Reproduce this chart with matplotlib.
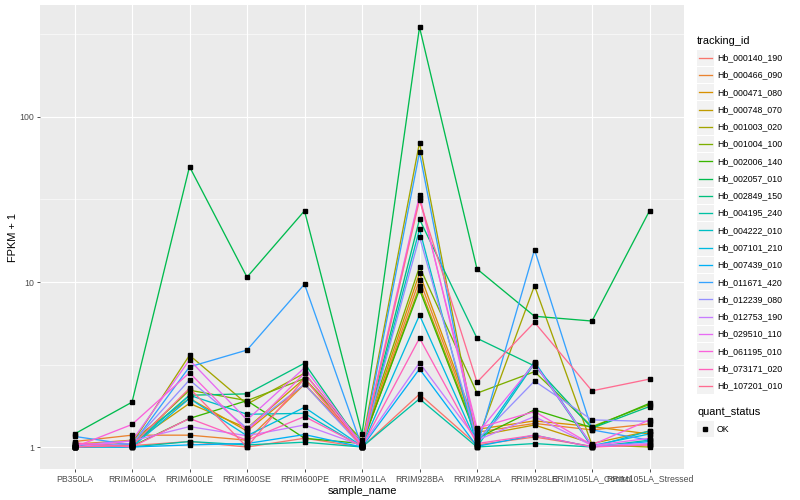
import matplotlib
matplotlib.use("Agg")
import matplotlib.pyplot as plt
from matplotlib.lines import Line2D
from matplotlib.patches import Rectangle
from matplotlib.ticker import FixedLocator, NullFormatter

plt.rcParams["font.family"] = ["Liberation Sans", "DejaVu Sans"]

# --- data: FPKM + 1 per sample, one list per tracking id ---
samples = ["PB350LA", "RRIM600LA", "RRIM600LE", "RRIM600SE", "RRIM600PE",
           "RRIM901LA", "RRIM928BA", "RRIM928LA", "RRIM928LE",
           "RRIM105LA_Control", "RRIM105LA_Stressed"]

tracking_ids = ["Hb_000140_190", "Hb_000466_090", "Hb_000471_080", "Hb_000748_070",
                "Hb_001003_020", "Hb_001004_100", "Hb_002006_140", "Hb_002057_010",
                "Hb_002849_150", "Hb_004195_240", "Hb_004222_010", "Hb_007101_210",
                "Hb_007439_010", "Hb_011671_420", "Hb_012239_080", "Hb_012753_190",
                "Hb_029510_110", "Hb_061195_010", "Hb_073171_020", "Hb_107201_010"]

hb_000140_190 = [1.05, 1.02, 1.08, 1.00, 1.13, 1.00, 2.09, 1.03, 1.15, 1.01, 1.03]
hb_000466_090 = [1.08, 1.18, 1.18, 1.10, 2.40, 1.02, 10.3, 1.23, 1.39, 1.27, 1.38]
hb_000471_080 = [1.04, 1.10, 1.97, 1.25, 2.40, 1.05, 11.3, 1.28, 1.44, 1.33, 1.20]
hb_000748_070 = [1.02, 1.05, 1.84, 1.30, 2.60, 1.03, 9.4, 1.17, 1.36, 1.05, 1.25]
hb_001003_020 = [1.00, 1.05, 3.60, 1.82, 2.80, 1.05, 70.0, 1.08, 9.5, 1.03, 1.00]
hb_001004_100 = [1.00, 1.04, 2.21, 1.91, 2.60, 1.10, 12.4, 2.12, 2.86, 1.33, 1.81]
hb_002006_140 = [1.00, 1.01, 1.49, 1.91, 1.13, 1.05, 9.0, 1.13, 1.68, 1.31, 1.84]
hb_002057_010 = [1.20, 1.87, 50.0, 10.7, 27.0, 1.20, 350.0, 12.0, 6.2, 5.8, 27.0]
hb_002849_150 = [1.00, 1.02, 2.06, 2.10, 3.22, 1.02, 24.0, 4.56, 3.10, 1.30, 1.76]
hb_004195_240 = [1.01, 1.00, 1.08, 1.03, 1.07, 1.00, 1.96, 1.00, 1.05, 1.00, 1.10]
hb_004222_010 = [1.00, 1.03, 2.06, 1.58, 1.60, 1.00, 20.9, 1.00, 3.21, 1.00, 1.25]
hb_007101_210 = [1.02, 1.00, 1.97, 1.17, 1.74, 1.01, 6.3, 1.05, 3.29, 1.02, 1.20]
hb_007439_010 = [1.00, 1.00, 1.03, 1.05, 1.19, 1.00, 2.97, 1.01, 1.18, 1.00, 1.08]
hb_011671_420 = [1.16, 1.03, 3.06, 3.87, 9.7, 1.00, 61.0, 1.00, 15.7, 1.27, 1.10]
hb_012239_080 = [1.00, 1.05, 2.55, 1.30, 2.40, 1.00, 18.8, 1.10, 2.51, 1.46, 1.43]
hb_012753_190 = [1.03, 1.09, 1.33, 1.17, 1.36, 1.02, 3.24, 1.10, 1.53, 1.02, 1.05]
hb_029510_110 = [1.00, 1.09, 3.37, 1.46, 3.02, 1.03, 33.5, 1.20, 3.21, 1.02, 1.13]
hb_061195_010 = [1.00, 1.37, 2.82, 1.25, 2.80, 1.02, 32.4, 1.30, 1.64, 1.03, 1.46]
hb_073171_020 = [1.06, 1.00, 1.49, 1.10, 1.53, 1.01, 4.57, 1.05, 1.18, 1.00, 1.03]
hb_107201_010 = [1.00, 1.02, 2.27, 1.00, 2.60, 1.00, 31.4, 2.47, 5.7, 2.19, 2.58]

series = [hb_000140_190, hb_000466_090, hb_000471_080, hb_000748_070,
          hb_001003_020, hb_001004_100, hb_002006_140, hb_002057_010,
          hb_002849_150, hb_004195_240, hb_004222_010, hb_007101_210,
          hb_007439_010, hb_011671_420, hb_012239_080, hb_012753_190,
          hb_029510_110, hb_061195_010, hb_073171_020, hb_107201_010]

# ggplot2 default hue palette for 20 groups
colors = ["#F8766D", "#EA8331", "#D89000", "#C09B00", "#A3A500", "#7CAE00",
          "#39B600", "#00BB4E", "#00BF7D", "#00C1A3", "#00BFC4", "#00BAE0",
          "#00B0F6", "#35A2FF", "#9590FF", "#C77CFF", "#E76BF3", "#FA62DB",
          "#FF62BC", "#FF6C91"]

W, H = 800, 500


def fx(px):
    return px / W


def fy(py):
    return 1 - py / H


fig = plt.figure(figsize=(8, 5), dpi=100)
ax = fig.add_axes([fx(40), fy(469), fx(684) - fx(40), fy(5) - fy(469)])
ax.set_facecolor("#EBEBEB")
for s in ax.spines.values():
    s.set_visible(False)

x = list(range(len(samples)))
for vals, c in zip(series, colors):
    ax.plot(x, vals, color=c, lw=0.95, zorder=2)
for vals in series:
    ax.plot(x, vals, ls="none", marker="s", ms=2.6, color="black", zorder=3)

ax.set_yscale("log")
ax.set_ylim(0.736, 477)
ax.set_xlim(-0.6, len(samples) - 0.4)
ax.yaxis.set_major_locator(FixedLocator([1, 10, 100]))
ax.set_yticklabels(["1", "10", "100"])
ax.yaxis.set_minor_locator(FixedLocator([10 ** 0.5, 10 ** 1.5, 10 ** 2.5]))
ax.yaxis.set_minor_formatter(NullFormatter())
ax.set_xticks(x)
ax.set_xticklabels(samples)

ax.grid(True, which="major", color="white", lw=0.8, zorder=0)
ax.grid(True, which="minor", axis="y", color="white", lw=0.4, zorder=0)
ax.set_axisbelow(True)
ax.tick_params(which="major", length=2, width=0.6, color="#333333",
               labelsize=6.3, labelcolor="#4D4D4D", pad=2)
ax.tick_params(which="minor", length=0)

ax.set_xlabel("sample_name", fontsize=7.9, labelpad=2)
ax.set_ylabel("FPKM + 1", fontsize=7.9, labelpad=1)

# --- legend, drawn by hand in ggplot style ---
fig.text(fx(697), fy(40.5), "tracking_id", fontsize=7.9, va="center", ha="left")
step = 17.27
for i, (name, c) in enumerate(zip(tracking_ids, colors)):
    yc = 57.7 + i * step
    fig.add_artist(Rectangle((fx(697), fy(yc + 8.2)), fx(16.6), 16.4 / H,
                             transform=fig.transFigure, color="#F2F2F2", lw=0))
    fig.add_artist(Line2D([fx(699), fx(711.5)], [fy(yc), fy(yc)],
                          transform=fig.transFigure, color=c, lw=0.95))
    fig.text(fx(717), fy(yc), name, fontsize=6.3, va="center", ha="left")

fig.text(fx(697), fy(412), "quant_status", fontsize=7.9, va="center", ha="left")
fig.add_artist(Rectangle((fx(697), fy(429 + 8.2)), fx(16.6), 16.4 / H,
                         transform=fig.transFigure, color="#F2F2F2", lw=0))
fig.add_artist(Line2D([fx(705.3)], [fy(429)], transform=fig.transFigure,
                      ls="none", marker="s", ms=2.6, color="black"))
fig.text(fx(717), fy(429), "OK", fontsize=6.3, va="center", ha="left")

fig.savefig("out.png", dpi=100)
